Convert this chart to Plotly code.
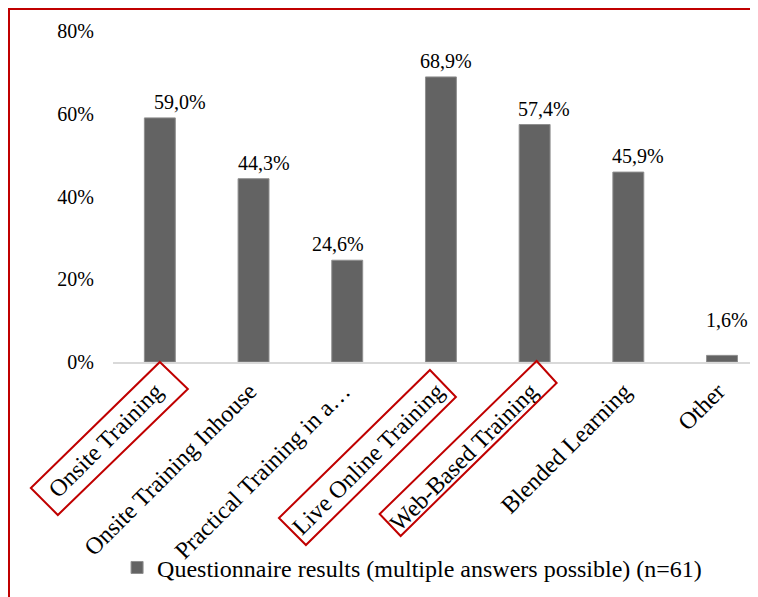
import plotly.graph_objects as go

categories = ["Onsite Training", "Onsite Training Inhouse", "Practical Training in a…",
              "Live Online Training", "Web-Based Training", "Blended Learning", "Other"]
values = [0.590, 0.443, 0.246, 0.689, 0.574, 0.459, 0.016]
series_name = "Questionnaire results (multiple answers possible) (n=61)"
y_ticks = [0, 0.2, 0.4, 0.6, 0.8]
y_tick_labels = ["0%", "20%", "40%", "60%", "80%"]
highlighted = ["Onsite Training", "Live Online Training", "Web-Based Training"]

FONT = "Liberation Serif"
RED = "#c00000"

W, H = 758, 597
ML, MR, MT, MB = 105, 8, 23, 243
PW, PH = W - ML - MR, H - MT - MB
X_RANGE = [-0.5, 6.384]

# manual data-label offsets (px) as placed in the original chart
label_dx = [20, 10, -9, 5, 9, 10, 5]
label_dy = [3, 3, 3, 3, 3, 3, 22]

labels = [f"{v*100:.1f}".replace(".", ",") + "%" for v in values]

fig = go.Figure()
fig.add_trace(go.Bar(
    x=list(range(len(categories))), y=values, name=series_name,
    marker=dict(color="#636363", line=dict(color="#8f8f8f", width=1)),
    showlegend=True, hoverinfo="skip",
))

annotations = []
for i, (v, t) in enumerate(zip(values, labels)):
    annotations.append(dict(x=i, y=v, xref="x", yref="y", text=t, showarrow=False,
                            xanchor="center", yanchor="bottom",
                            xshift=label_dx[i], yshift=label_dy[i],
                            font=dict(family=FONT, size=20, color="#000000")))

# highlight boxes around some category labels: corner offsets in pixels
# (right, down) from the category's tick position on the baseline
box_corners = {
    "Onsite Training": [(0, 0), (28, 27), (-102, 153), (-129, 126)],
    "Live Online Training": [(-11, 8), (15, 35), (-135, 183), (-162, 156)],
    "Web-Based Training": [(2, -1), (22, 21), (-134, 174), (-155, 152)],
}
span = X_RANGE[1] - X_RANGE[0]
shapes = []
for name in highlighted:
    ax = (categories.index(name) - X_RANGE[0]) / span
    pts = [(ax + dx / PW, -dy / PH) for dx, dy in box_corners[name]]
    path = "M" + " L".join(f"{px:.5f},{py:.5f}" for px, py in pts) + " Z"
    shapes.append(dict(type="path", xref="paper", yref="paper", path=path,
                       line=dict(color=RED, width=2), fillcolor="rgba(0,0,0,0)",
                       layer="above"))
# outer red frame
shapes.append(dict(type="rect", xref="paper", yref="paper",
                   x0=(1 - ML) / PW, x1=1.2, y0=-1.5, y1=(PH + MT - 1) / PH,
                   line=dict(color=RED, width=2), fillcolor="rgba(0,0,0,0)"))

fig.update_layout(
    width=W, height=H,
    margin=dict(l=ML, r=MR, t=MT, b=MB, autoexpand=False),
    paper_bgcolor="white", plot_bgcolor="white",
    bargap=0.67,
    font=dict(family=FONT, color="#000000"),
    shapes=shapes, annotations=annotations,
    legend=dict(orientation="h", x=0.0063, xanchor="left", y=-0.622, yanchor="middle",
                font=dict(family=FONT, size=24, color="#000000"),
                itemwidth=30, bgcolor="rgba(0,0,0,0)"),
    xaxis=dict(
        tickmode="array", tickvals=list(range(len(categories))), ticktext=categories,
        range=X_RANGE, tickangle=-45, ticklabelshift=-4, ticklabelstandoff=4,
        tickfont=dict(family=FONT, size=24, color="#000000"),
        showgrid=False, showline=True, linecolor="#d9d9d9", linewidth=1.5,
        ticks="", zeroline=False, automargin=False,
    ),
    yaxis=dict(
        range=[0, 0.8], tickmode="array", tickvals=y_ticks, ticktext=y_tick_labels,
        tickfont=dict(family=FONT, size=20, color="#000000"),
        showgrid=False, showline=False, zeroline=False,
        ticks="outside", ticklen=14, tickcolor="rgba(0,0,0,0)", automargin=False,
    ),
)

fig.write_html("out.html")
